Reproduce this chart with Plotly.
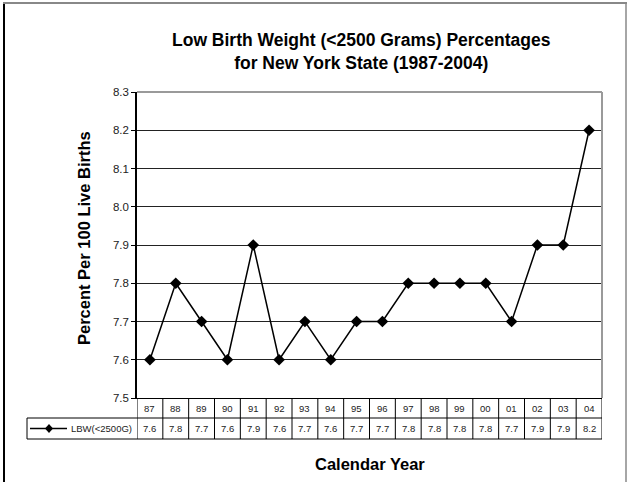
import plotly.graph_objects as go

years = ["87", "88", "89", "90", "91", "92", "93", "94", "95", "96",
         "97", "98", "99", "00", "01", "02", "03", "04"]
lbw = [7.6, 7.8, 7.7, 7.6, 7.9, 7.6, 7.7, 7.6, 7.7, 7.7,
       7.8, 7.8, 7.8, 7.8, 7.7, 7.9, 7.9, 8.2]
series_name = "LBW(<2500G)"
title_text = "Low Birth Weight (<2500 Grams) Percentages<br>for New York State (1987-2004)"
y_title = "Percent Per 100 Live Births"
x_title = "Calendar Year"

W, H = 630, 482
L, R, T, B = 137, 28, 92, 84
PW, PH = W - L - R, H - T - B

def px(xp):
    return (xp - L) / PW

def py(yp):
    return (H - B - yp) / PH

FONT = "Liberation Sans, Arial, sans-serif"
n = len(years)
xs = list(range(n))

fig = go.Figure()
fig.add_trace(go.Scatter(
    x=xs, y=lbw, mode="lines+markers",
    line=dict(color="black", width=1.5),
    marker=dict(symbol="diamond", size=9, color="black"),
    showlegend=False, hoverinfo="skip",
))

shapes = []
annotations = []

# plot area top/right border (gray)
shapes.append(dict(type="line", xref="paper", yref="paper", x0=0, x1=1, y0=1, y1=1,
                   line=dict(color="#9a9a9a", width=2)))
shapes.append(dict(type="line", xref="paper", yref="paper", x0=1, x1=1, y0=0, y1=1,
                   line=dict(color="#9a9a9a", width=2)))

# outer chart border
shapes.append(dict(type="line", xref="paper", yref="paper", x0=px(4), x1=px(4), y0=py(2), y1=py(500),
                   line=dict(color="black", width=2)))
shapes.append(dict(type="line", xref="paper", yref="paper", x0=px(3), x1=px(627), y0=py(3), y1=py(3),
                   line=dict(color="#888888", width=2)))
shapes.append(dict(type="line", xref="paper", yref="paper", x0=px(626), x1=px(626), y0=py(3), y1=py(500),
                   line=dict(color="#888888", width=1.5)))

# data table
row1_bot = py(418)
row2_bot = py(439)
leg_left = px(27)
tcol = "black"
for i in range(n + 1):
    shapes.append(dict(type="line", xref="x", yref="paper", x0=i - 0.5, x1=i - 0.5,
                       y0=0, y1=row2_bot, line=dict(color=tcol, width=1)))
shapes.append(dict(type="line", xref="x", yref="paper", x0=-0.5, x1=n - 0.5,
                   y0=row1_bot, y1=row1_bot, line=dict(color=tcol, width=1)))
shapes.append(dict(type="line", xref="paper", yref="paper", x0=leg_left, x1=0,
                   y0=row1_bot, y1=row1_bot, line=dict(color=tcol, width=1)))
shapes.append(dict(type="line", xref="paper", yref="paper", x0=leg_left, x1=1,
                   y0=row2_bot, y1=row2_bot, line=dict(color=tcol, width=1)))
shapes.append(dict(type="line", xref="paper", yref="paper", x0=leg_left, x1=leg_left,
                   y0=row1_bot, y1=row2_bot, line=dict(color=tcol, width=1)))

row1_c = py(408)
row2_c = py(428.5)
TF = dict(family=FONT, size=9.5, color="#222")
for i, (yr, v) in enumerate(zip(years, lbw)):
    annotations.append(dict(x=i, y=row1_c, xref="x", yref="paper", text=yr, showarrow=False,
                            font=TF, xanchor="center", yanchor="middle"))
    annotations.append(dict(x=i, y=row2_c, xref="x", yref="paper", text=f"{v:.1f}", showarrow=False,
                            font=TF, xanchor="center", yanchor="middle"))

# legend key in table
shapes.append(dict(type="line", xref="paper", yref="paper", x0=px(30), x1=px(67),
                   y0=row2_c, y1=row2_c, line=dict(color="black", width=1.5)))
dx, dy = 4 / PW, 4.5 / PH
cx = px(49)
shapes.append(dict(type="path", xref="paper", yref="paper",
                   path=f"M {cx - dx} {row2_c} L {cx} {row2_c + dy} L {cx + dx} {row2_c} L {cx} {row2_c - dy} Z",
                   fillcolor="black", line=dict(color="black", width=0)))
annotations.append(dict(x=px(69), y=row2_c, xref="paper", yref="paper", text=series_name, showarrow=False,
                        font=TF, xanchor="left", yanchor="middle"))

# titles
annotations.append(dict(x=px(361), y=py(51), xref="paper", yref="paper",
                        text="<b>" + title_text.replace("<br>", "</b><br><b>") + "</b>",
                        showarrow=False, font=dict(family=FONT, size=17.5, color="black"),
                        xanchor="center", yanchor="middle", align="center"))
annotations.append(dict(x=px(84), y=py(238), xref="paper", yref="paper", text="<b>" + y_title + "</b>",
                        showarrow=False, textangle=-90, font=dict(family=FONT, size=16.5, color="black"),
                        xanchor="center", yanchor="middle"))
annotations.append(dict(x=px(370), y=py(464), xref="paper", yref="paper", text="<b>" + x_title + "</b>",
                        showarrow=False, font=dict(family=FONT, size=16.5, color="black"),
                        xanchor="center", yanchor="middle"))

fig.update_layout(
    width=W, height=H,
    margin=dict(l=L, r=R, t=T, b=B, pad=0),
    paper_bgcolor="white", plot_bgcolor="white",
    font=dict(family=FONT, size=11, color="black"),
    xaxis=dict(range=[-0.5, n - 0.5], showticklabels=False, ticks="", showgrid=False,
               zeroline=False, showline=True, linecolor="black", linewidth=1, fixedrange=True),
    yaxis=dict(range=[7.5, 8.3], dtick=0.1, tick0=7.5, tickformat=".1f", ticks="outside",
               ticklen=4, tickcolor="black", showgrid=True, gridcolor="#222", gridwidth=1,
               zeroline=False, showline=True, linecolor="black", linewidth=1.5,
               tickfont=dict(family=FONT, size=11.5, color="#222"), fixedrange=True),
    shapes=shapes, annotations=annotations,
)

fig.write_html("out.html", config={"displayModeBar": False},
               post_script="document.body.style.margin='0';document.body.style.padding='0';")
